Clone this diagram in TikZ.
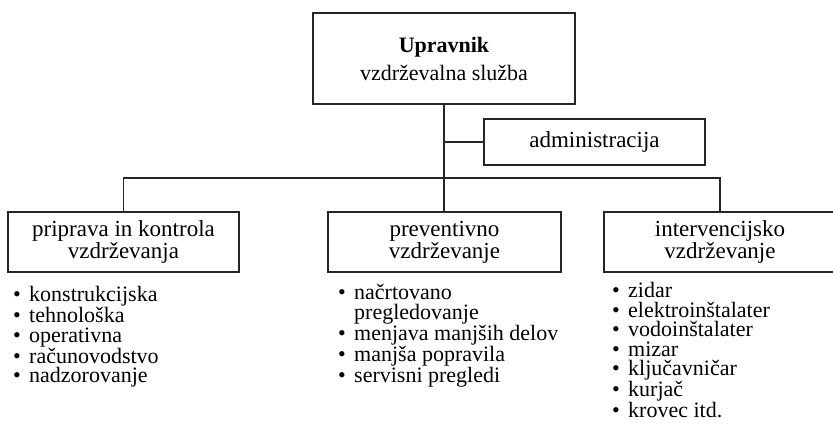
\documentclass[tikz,border=0pt]{standalone}
\usepackage{fontspec}
\setmainfont{Liberation Serif}
\newcommand{\itm}{\makebox[16pt][l]{\textbullet}}
\newcommand{\cont}{\makebox[16pt][l]{}}
\begin{document}
\begin{tikzpicture}[x=1pt, y=-1pt,
  unit/.style={draw=black!85, line width=1.1pt, minimum width=232pt, minimum height=60pt, align=center, inner sep=0pt, font=\fontsize{23}{22}\selectfont},
  list/.style={anchor=north west, align=left, inner sep=0pt, font=\fontsize{22}{19.6}\selectfont},
  line/.style={draw=black!85, line width=1.4pt}
]
\useasboundingbox (0,0) rectangle (833,433);

\node[unit, minimum width=262pt, minimum height=91pt, font=\fontsize{22}{28}\selectfont] (boss) at (444,58.5) {\textbf{Upravnik}\\vzdrževalna služba};
\node[unit, minimum width=221pt, minimum height=46pt] (admin) at (594.5,142) {administracija};
\node[unit, minimum width=231pt] (prep) at (123.5,242) {priprava in kontrola\\vzdrževanja};
\node[unit, minimum width=233pt] (prev) at (444.5,242) {preventivno\\vzdrževanje};
\node[unit] (interv) at (720,242) {intervencijsko\\vzdrževanje};
\coordinate (bus) at (444,178);

\node[list] (prepl) at (13,286) {\itm konstrukcijska\\\itm tehnološka\\\itm operativna\\\itm računovodstvo\\\itm nadzorovanje};
\node[list] (prevl) at (338,284) {\itm načrtovano\\\cont pregledovanje\\\itm menjava manjših delov\\\itm manjša popravila\\\itm servisni pregledi};
\node[list] (intervl) at (612,282) {\itm zidar\\\itm elektroinštalater\\\itm vodoinštalater\\\itm mizar\\\itm ključavničar\\\itm kurjač\\\itm krovec itd.};

\draw[line] (boss.south) -- (bus);
\draw[line] (boss.south |- admin.west) -- (admin.west);
\draw[line] (prep.north) |- (bus) -| (interv.north);
\draw[line] (bus) -- (bus |- prev.north);
\end{tikzpicture}
\end{document}
